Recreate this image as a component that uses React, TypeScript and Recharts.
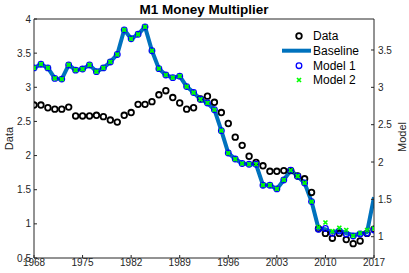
import React from 'react';
import { ComposedChart, Line, XAxis, YAxis, Legend } from 'recharts';

const years = [
  1968, 1969, 1970, 1971, 1972, 1973, 1974, 1975, 1976, 1977,
  1978, 1979, 1980, 1981, 1982, 1983, 1984, 1985, 1986, 1987,
  1988, 1989, 1990, 1991, 1992, 1993, 1994, 1995, 1996, 1997,
  1998, 1999, 2000, 2001, 2002, 2003, 2004, 2005, 2006, 2007,
  2008, 2009, 2010, 2011, 2012, 2013, 2014, 2015, 2016, 2017,
];

const dataValues = [
  2.74, 2.74, 2.70, 2.68, 2.68, 2.71, 2.58, 2.58, 2.58, 2.59,
  2.57, 2.52, 2.49, 2.59, 2.63, 2.75, 2.75, 2.79, 2.89, 2.95,
  2.85, 2.77, 2.68, 2.70, 2.83, 2.87, 2.78, 2.63, 2.47, 2.27,
  2.15, 1.99, 1.90, 1.85, 1.77, 1.77, 1.78, 1.78, 1.70, 1.66,
  1.46, 0.93, 0.86, 0.79, 0.86, 0.77, 0.71, 0.75, 0.86, 0.92,
];

const baselineValues = [
  3.26, 3.31, 3.26, 3.12, 3.11, 3.30, 3.23, 3.245, 3.30, 3.21,
  3.26, 3.34, 3.44, 3.77, 3.65, 3.71, 3.81, 3.49, 3.25, 3.165,
  3.13, 3.15, 3.01, 2.93, 2.84, 2.79, 2.70, 2.42, 2.12, 2.04,
  1.98, 1.97, 1.97, 1.69, 1.69, 1.64, 1.76, 1.89, 1.81, 1.72,
  1.47, 1.11, 1.10, 1.06, 1.08, 1.05, 1.02, 1.04, 1.06, 1.53,
];

const model1Values = [
  3.26, 3.31, 3.26, 3.12, 3.11, 3.30, 3.23, 3.245, 3.30, 3.21,
  3.26, 3.34, 3.44, 3.77, 3.65, 3.71, 3.81, 3.49, 3.25, 3.165,
  3.13, 3.15, 3.01, 2.93, 2.84, 2.79, 2.70, 2.42, 2.12, 2.04,
  1.98, 1.97, 1.97, 1.69, 1.69, 1.64, 1.76, 1.89, 1.81, 1.72,
  1.47, 1.10, 1.11, 1.045, 1.076, 1.036, 1.01, 1.036, 1.045, 1.09,
];

const model2Values = [
  3.26, 3.31, 3.26, 3.12, 3.11, 3.30, 3.23, 3.245, 3.30, 3.21,
  3.26, 3.34, 3.44, 3.77, 3.65, 3.71, 3.81, 3.49, 3.25, 3.165,
  3.13, 3.15, 3.01, 2.93, 2.84, 2.79, 2.70, 2.42, 2.12, 2.04,
  1.98, 1.97, 1.97, 1.69, 1.69, 1.64, 1.76, 1.89, 1.81, 1.72,
  1.47, 1.13, 1.19, 1.076, 1.12, 1.09, 1.01, 1.05, 1.09, 1.11,
];

const xTicks = [1968, 1975, 1982, 1989, 1996, 2003, 2010, 2017];
const leftTicks = [0.5, 1, 1.5, 2, 2.5, 3, 3.5, 4];
const rightTicks = [1, 1.5, 2, 2.5, 3, 3.5];

const rows = years.map((year, i) => ({
  year,
  data: dataValues[i],
  baseline: baselineValues[i],
  model1: model1Values[i],
  model2: model2Values[i],
}));

const AXIS = '#262626';
const FONT = '"Liberation Sans", Arial, Helvetica, sans-serif';
const BASE_BLUE = '#0072BD';

const DataDot = (props: any) => {
  const { cx, cy, index } = props;
  if (cx == null || cy == null) return <g key={`d${index}`} />;
  return <circle key={`d${index}`} cx={cx} cy={cy} r={2.8} fill="none" stroke="#000" strokeWidth={1.8} />;
};

const M1Dot = (props: any) => {
  const { cx, cy, index } = props;
  if (cx == null || cy == null) return <g key={`m1${index}`} />;
  return <circle key={`m1${index}`} cx={cx} cy={cy} r={2.8} fill="none" stroke="#0000FF" strokeWidth={1.3} />;
};

const M2Dot = (props: any) => {
  const { cx, cy, index } = props;
  if (cx == null || cy == null) return <g key={`m2${index}`} />;
  const s = 2;
  return (
    <path
      key={`m2${index}`}
      d={`M${cx - s},${cy - s}L${cx + s},${cy + s}M${cx - s},${cy + s}L${cx + s},${cy - s}`}
      stroke="#00FF00"
      strokeWidth={1.7}
      fill="none"
    />
  );
};

const LegendContent = () => (
  <svg width={112} height={64} style={{ display: 'block', overflow: 'visible' }}>
    <g fontFamily={FONT} fontSize={12} fill="#000">
      <circle cx={21} cy={9} r={2.8} fill="none" stroke="#000" strokeWidth={1.8} />
      <text x={35} y={9} dominantBaseline="central">Data</text>
      <line x1={4} y1={23.7} x2={33} y2={23.7} stroke={BASE_BLUE} strokeWidth={4} />
      <text x={35} y={23.7} dominantBaseline="central">Baseline</text>
      <circle cx={21} cy={38.7} r={2.8} fill="none" stroke="#0000FF" strokeWidth={1.3} />
      <text x={35} y={38.7} dominantBaseline="central">Model 1</text>
      <path d="M19,51L23,55M19,55L23,51" stroke="#00FF00" strokeWidth={1.7} fill="none" />
      <text x={35} y={53} dominantBaseline="central">Model 2</text>
    </g>
  </svg>
);

const tickStyle = { fill: AXIS, fontSize: 10, fontFamily: FONT };

export default function App() {
  return (
    <div style={{ width: 409, height: 273, position: 'relative' }}>
      <style>{`body{margin:0;background:#fff;}`}</style>
      <ComposedChart width={409} height={273} data={rows} margin={{ top: 18, right: 0, bottom: 0, left: 0 }}>
        <XAxis
          xAxisId="bottom"
          dataKey="year"
          type="number"
          domain={[1968, 2017]}
          ticks={xTicks}
          interval={0}
          allowDataOverflow
          orientation="bottom"
          height={15}
          tickSize={-3}
          tickMargin={4}
          axisLine={{ stroke: AXIS }}
          tickLine={{ stroke: AXIS }}
          tick={tickStyle}
        />
        <XAxis
          xAxisId="top"
          dataKey="year"
          type="number"
          domain={[1968, 2017]}
          ticks={xTicks}
          interval={0}
          allowDataOverflow
          orientation="top"
          height={1}
          tickSize={-3}
          tick={false}
          axisLine={{ stroke: AXIS }}
          tickLine={{ stroke: AXIS }}
          label={{
            content: () => (
              <text x={204} y={14} textAnchor="middle" fontFamily={FONT} fontSize={13.5} fontWeight="bold" fill="#000">
                M1 Money Multiplier
              </text>
            ),
          }}
        />
        <YAxis
          yAxisId="left"
          orientation="left"
          width={34}
          domain={[0.5, 4]}
          ticks={leftTicks}
          interval={0}
          allowDataOverflow
          tickSize={-3}
          tickMargin={6}
          axisLine={{ stroke: AXIS }}
          tickLine={{ stroke: AXIS }}
          tick={tickStyle}
          label={{
            content: () => (
              <text x={9} y={138.5} transform="rotate(-90 9 138.5)" textAnchor="middle" dominantBaseline="central" fontFamily={FONT} fontSize={11} fill={AXIS}>
                Data
              </text>
            ),
          }}
        />
        <YAxis
          yAxisId="right"
          orientation="right"
          width={35}
          domain={[0.715, 3.915]}
          ticks={rightTicks}
          interval={0}
          allowDataOverflow
          tickSize={-3}
          tickMargin={7}
          axisLine={{ stroke: AXIS }}
          tickLine={{ stroke: AXIS }}
          tick={tickStyle}
          label={{
            content: () => (
              <text x={402} y={137} transform="rotate(-90 402 137)" textAnchor="middle" dominantBaseline="central" fontFamily={FONT} fontSize={11} fill={AXIS}>
                Model
              </text>
            ),
          }}
        />
        <Line
          xAxisId="bottom"
          yAxisId="left"
          dataKey="data"
          stroke="none"
          dot={DataDot}
          activeDot={false}
          isAnimationActive={false}
          legendType="none"
        />
        <Line
          xAxisId="bottom"
          yAxisId="right"
          dataKey="baseline"
          stroke={BASE_BLUE}
          strokeWidth={4}
          strokeLinejoin="round"
          dot={false}
          activeDot={false}
          isAnimationActive={false}
        />
        <Line
          xAxisId="bottom"
          yAxisId="right"
          dataKey="model1"
          stroke="none"
          dot={M1Dot}
          activeDot={false}
          isAnimationActive={false}
        />
        <Line
          xAxisId="bottom"
          yAxisId="right"
          dataKey="model2"
          stroke="none"
          dot={M2Dot}
          activeDot={false}
          isAnimationActive={false}
        />
        <Legend
          layout="vertical"
          align="center"
          verticalAlign="middle"
          content={LegendContent}
          wrapperStyle={{ position: 'absolute', left: 278, top: 27, width: 112, height: 64 }}
        />
      </ComposedChart>
    </div>
  );
}
